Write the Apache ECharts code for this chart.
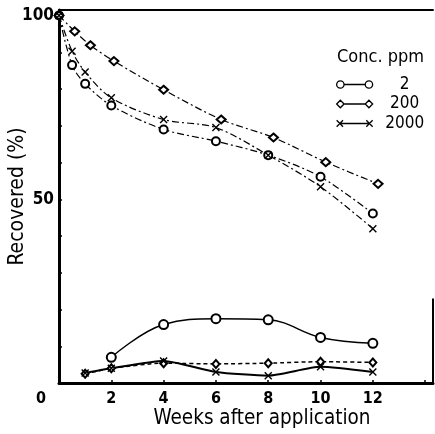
<!DOCTYPE html>
<html>
<head>
<meta charset="utf-8">
<script src="https://cdn.jsdelivr.net/npm/echarts@6/dist/echarts.min.js"></script>
<style>
html, body { margin: 0; padding: 0; background: #fff; }
#chart { width: 435px; height: 434px; }
</style>
</head>
<body>
<div id="chart"></div>
<script>
// weeks after application
var weeks = [0, 0.5, 1, 2, 4, 6, 8, 10, 12];
var weeksDiamond = [0, 0.6, 1.2, 2.1, 4, 6.2, 8.2, 10.2, 12.2];
var weeksLow = [1, 2, 4, 6, 8, 10, 12];
var weeksLow2 = [2, 4, 6, 8, 10, 12];

// recovered (%) - upper group
var upper2 = [100, 86.5, 81.4, 75.5, 69.0, 65.8, 62.0, 56.1, 46.1];
var upper200 = [100, 95.7, 91.9, 87.6, 79.8, 71.7, 66.8, 60.1, 54.2];
var upper2000 = [100, 90.3, 84.6, 77.6, 71.7, 69.5, 62.0, 53.4, 42.0];

// recovered (%) - lower group
var low2 = [7.0, 15.9, 17.5, 17.2, 12.4, 10.8];
var low200 = [2.5, 4.0, 5.4, 5.2, 5.4, 5.8, 5.6];
var low2000 = [2.7, 4.0, 6.0, 3.0, 2.0, 4.4, 3.0];

var concNames = ['2', '200', '2000'];
var xTicks = [0, 2, 4, 6, 8, 10, 12];
var yTicks = [50, 100];

var narrow = '"Liberation Sans Narrow", "DejaVu Sans Condensed", sans-serif';
var crossPath = 'path://M0,0 L10,10 M0,10 L10,0';

function pairs(xs, ys) {
    var res = [];
    for (var i = 0; i < ys.length; i++) {
        res.push([xs[i], ys[i]]);
    }
    return res;
}

var dashDot = [7, 3, 2, 3];
var symStyle = {color: '#000', borderColor: '#000', borderWidth: 1.4};

var chart = echarts.init(document.getElementById('chart'));
var option = {
    backgroundColor: '#fff',
    animation: false,
    title: {
        text: 'Conc. ppm',
        left: 337,
        top: 48,
        padding: 0,
        textStyle: {fontFamily: narrow, fontSize: 18, fontWeight: 'normal', color: '#000'}
    },
    legend: {
        orient: 'vertical',
        left: 336,
        top: 76,
        itemWidth: 36,
        itemHeight: 8,
        itemGap: 2.5,
        padding: 0,
        selectedMode: false,
        formatter: function (name) {
            return '{a|' + name + '}';
        },
        textStyle: {
            fontFamily: narrow, fontSize: 17, color: '#000',
            rich: {a: {fontFamily: narrow, fontSize: 17, lineHeight: 18, width: 54, align: 'center'}}
        },
        itemStyle: {color: 'rgba(0,0,0,0)', borderColor: '#000', borderWidth: 1.3},
        data: [
            {name: concNames[0], icon: 'path://M0.5,4 A3.5,3.5 0 1,1 7.5,4 A3.5,3.5 0 1,1 0.5,4 Z M7.5,4 L27.5,4 M27.5,4 A3.5,3.5 0 1,1 34.5,4 A3.5,3.5 0 1,1 27.5,4 Z'},
            {name: concNames[1], icon: 'path://M0.5,4 L4,0.5 L7.5,4 L4,7.5 Z M7.5,4 L27.5,4 M27.5,4 L31,0.5 L34.5,4 L31,7.5 Z'},
            {name: concNames[2], icon: 'path://M0.5,1 L6.5,7 M0.5,7 L6.5,1 M3.5,4 L31.5,4 M28.5,1 L34.5,7 M28.5,7 L34.5,1'}
        ]
    },
    grid: {left: 59, right: 2, top: 10, bottom: 51, outerBoundsMode: 'none', containLabel: false},
    xAxis: [{
        type: 'value',
        min: 0,
        max: 14.3,
        interval: 2,
        name: 'Weeks after application',
        nameLocation: 'middle',
        nameGap: 25,
        nameMoveOverlap: false,
        nameTextStyle: {fontFamily: narrow, fontSize: 20.5, color: '#000', padding: [0, 0, 0, 32]},
        splitLine: {show: false},
        axisLine: {lineStyle: {color: '#000', width: 3}},
        axisTick: {inside: true, length: 3, lineStyle: {color: '#000', width: 1.5}},
        axisLabel: {
            margin: 8,
            fontFamily: narrow, fontSize: 16, fontWeight: 'bold', color: '#000',
            formatter: function (v) {
                if (v === 0) return '{o|0}';
                return xTicks.indexOf(v) >= 0 ? String(v) : '';
            },
            rich: {o: {fontFamily: narrow, fontSize: 16, fontWeight: 'bold', padding: [0, 36, 0, 0]}}
        }
    }, {
        type: 'value',
        position: 'top',
        min: 0,
        max: 14.3,
        axisLine: {show: true, lineStyle: {color: '#000', width: 2}},
        axisTick: {show: false},
        axisLabel: {show: false},
        splitLine: {show: false}
    }],
    yAxis: {
        type: 'value',
        min: 0,
        max: 101.5,
        interval: 10,
        name: 'Recovered (%)',
        nameLocation: 'middle',
        nameRotate: 90,
        nameGap: 31,
        nameMoveOverlap: false,
        nameTextStyle: {fontFamily: narrow, fontSize: 21, color: '#000'},
        splitLine: {show: false},
        axisLine: {lineStyle: {color: '#000', width: 3}},
        axisTick: {inside: true, length: 3, lineStyle: {color: '#000', width: 1.5}},
        axisLabel: {
            margin: 5,
            fontFamily: narrow, fontSize: 17, fontWeight: 'bold', color: '#000',
            formatter: function (v) {
                return yTicks.indexOf(v) >= 0 ? String(v) : '';
            }
        }
    },
    series: [
        {
            name: concNames[0], type: 'line', data: pairs(weeks, upper2),
            symbol: 'emptyCircle', symbolSize: 8, smooth: 0.3,
            itemStyle: symStyle,
            lineStyle: {color: '#000', width: 1.2, type: dashDot},
            emphasis: {disabled: true}
        },
        {
            name: concNames[1], type: 'line', data: pairs(weeksDiamond, upper200),
            symbol: 'emptyDiamond', symbolSize: [9, 8], smooth: 0.3,
            itemStyle: symStyle,
            lineStyle: {color: '#000', width: 1.2, type: dashDot},
            emphasis: {disabled: true}
        },
        {
            name: concNames[2], type: 'line', data: pairs(weeks, upper2000),
            symbol: crossPath, symbolSize: 7, smooth: 0.3,
            itemStyle: symStyle,
            lineStyle: {color: '#000', width: 1.2, type: dashDot},
            emphasis: {disabled: true},
            markLine: {
                silent: true, symbol: 'none', label: {show: false},
                lineStyle: {color: '#000', width: 2, type: 'solid'},
                data: [[{coord: [14.3, 0]}, {coord: [14.3, 23]}]]
            }
        },
        {
            name: concNames[0], type: 'line', data: pairs(weeksLow2, low2),
            symbol: 'emptyCircle', symbolSize: 9, smooth: 0.4,
            itemStyle: symStyle,
            lineStyle: {color: '#000', width: 1.5},
            emphasis: {disabled: true}
        },
        {
            name: concNames[1], type: 'line', data: pairs(weeksLow, low200),
            symbol: 'emptyDiamond', symbolSize: [7, 8], smooth: 0.2,
            itemStyle: symStyle,
            lineStyle: {color: '#000', width: 1.5, type: [4, 3]},
            emphasis: {disabled: true}
        },
        {
            name: concNames[2], type: 'line', data: pairs(weeksLow, low2000),
            symbol: crossPath, symbolSize: 7, smooth: 0.2,
            itemStyle: symStyle,
            lineStyle: {color: '#000', width: 2},
            emphasis: {disabled: true}
        }
    ]
};
chart.setOption(option);
</script>
</body>
</html>
